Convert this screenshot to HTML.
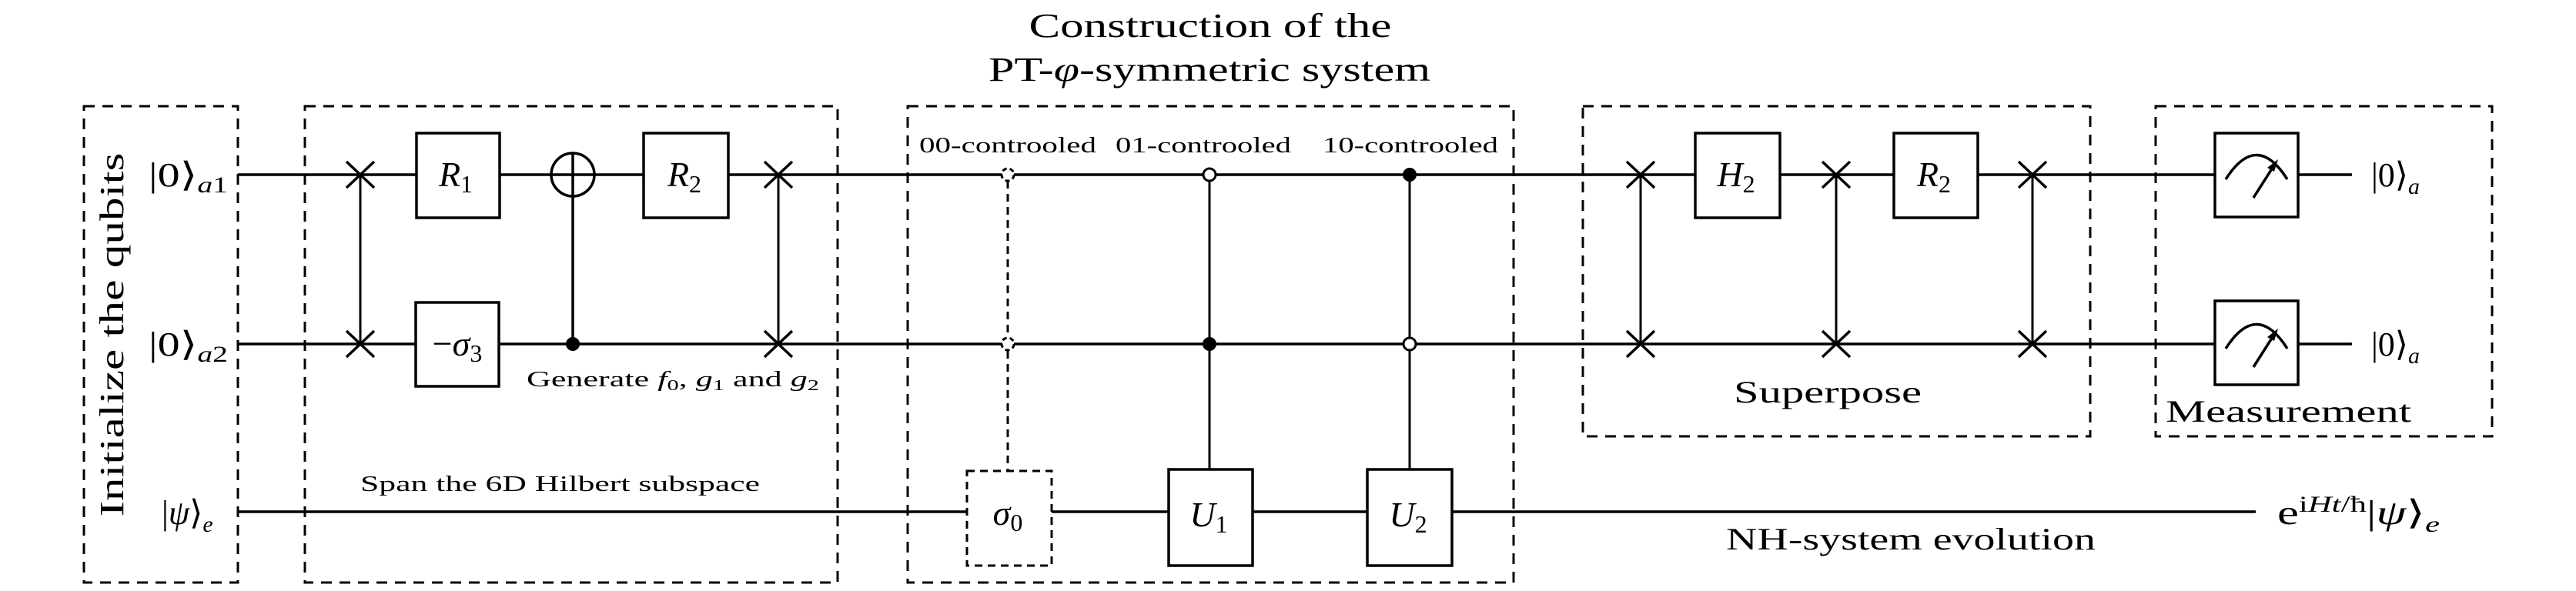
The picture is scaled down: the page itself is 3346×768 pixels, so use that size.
<!DOCTYPE html>
<html><head><meta charset="utf-8"><style>html,body{margin:0;padding:0;background:#fff}svg{display:block}text{font-family:"Liberation Serif",serif}</style></head>
<body>
<svg width="3346" height="768" viewBox="0 0 3346 768" xmlns="http://www.w3.org/2000/svg" fill="#000">
<g fill="none" stroke="#000" stroke-width="3" stroke-dasharray="14,10">
<rect x="109" y="138" width="200" height="619"/>
<rect x="396" y="138" width="692" height="619"/>
<rect x="1179" y="138" width="787" height="619"/>
<rect x="2056" y="138" width="659" height="429"/>
<rect x="2800" y="138" width="437" height="429"/>
</g>
<g stroke="#000" stroke-width="3.5" fill="none">
<line x1="309" y1="227" x2="3055" y2="227"/>
<line x1="309" y1="447" x2="3055" y2="447"/>
<line x1="309" y1="665" x2="2930" y2="665"/>
</g>
<g stroke="#000" stroke-width="3.5" fill="#fff">
<rect x="541" y="173" width="108" height="110"/>
<rect x="540" y="393" width="108" height="109"/>
<rect x="836" y="173" width="110" height="110"/>
<rect x="1518" y="610" width="109" height="125"/>
<rect x="1776" y="610" width="110" height="125"/>
<rect x="2202" y="173" width="110" height="110"/>
<rect x="2460" y="173" width="109" height="110"/>
<rect x="2877" y="173" width="108" height="109"/>
<rect x="2877" y="391" width="108" height="109"/>
</g>
<rect x="1256" y="612" width="110" height="123" fill="#fff" stroke="#000" stroke-width="3" stroke-dasharray="10,7"/>
<g stroke="#000" stroke-width="3">
<line x1="468" y1="227" x2="468" y2="447"/>
<line x1="1011" y1="227" x2="1011" y2="447"/>
<line x1="2131" y1="227" x2="2131" y2="447"/>
<line x1="2385" y1="227" x2="2385" y2="447"/>
<line x1="2640" y1="227" x2="2640" y2="447"/>
</g>
<g stroke="#000" stroke-width="3.5">
<path d="M450 210l36 34M486 210l-36 34M450 430l36 34M486 430l-36 34"/>
<path d="M993 210l36 34M1029 210l-36 34M993 430l36 34M1029 430l-36 34"/>
<path d="M2113 210l36 34M2149 210l-36 34M2113 430l36 34M2149 430l-36 34"/>
<path d="M2367 210l36 34M2403 210l-36 34M2367 430l36 34M2403 430l-36 34"/>
<path d="M2622 210l36 34M2658 210l-36 34M2622 430l36 34M2658 430l-36 34"/>
</g>
<line x1="744" y1="199" x2="744" y2="447" stroke="#000" stroke-width="3.5"/>
<circle cx="744" cy="227" r="28" fill="none" stroke="#000" stroke-width="3.5"/>
<circle cx="744" cy="447" r="9"/>
<line x1="1309" y1="235" x2="1309" y2="612" stroke="#000" stroke-width="3" stroke-dasharray="10,7"/>
<circle cx="1309" cy="227" r="8" fill="#fff" stroke="#000" stroke-width="3" stroke-dasharray="6,4"/>
<circle cx="1309" cy="447" r="8" fill="#fff" stroke="#000" stroke-width="3" stroke-dasharray="6,4"/>
<line x1="1571" y1="227" x2="1571" y2="610" stroke="#000" stroke-width="3"/>
<circle cx="1571" cy="227" r="8" fill="#fff" stroke="#000" stroke-width="3"/>
<circle cx="1571" cy="447" r="9"/>
<line x1="1831" y1="227" x2="1831" y2="610" stroke="#000" stroke-width="3"/>
<circle cx="1831" cy="227" r="9"/>
<circle cx="1831" cy="447" r="8" fill="#fff" stroke="#000" stroke-width="3"/>
<g stroke="#000" stroke-width="3.5" fill="none">
<path d="M2891 233 Q2931 170 2971 233"/>
<path d="M2927 257 L2955 213"/>
<path d="M2891 453 Q2931 390 2971 453"/>
<path d="M2927 477 L2955 433"/>
</g>
<path d="M2959 207 L2945 218 L2954 223 Z"/>
<path d="M2959 427 L2945 438 L2954 443 Z"/>
<g font-size="44">
<text x="193" y="242" textLength="103" lengthAdjust="spacingAndGlyphs">|0⟩<tspan font-style="italic" font-size="30" dy="8">a</tspan><tspan font-size="30">1</tspan></text>
<text x="193" y="462" textLength="103" lengthAdjust="spacingAndGlyphs">|0⟩<tspan font-style="italic" font-size="30" dy="8">a</tspan><tspan font-size="30">2</tspan></text>
<text x="210" y="681">|<tspan font-style="italic">ψ</tspan>⟩<tspan font-style="italic" font-size="30" dy="10">e</tspan></text>
<text x="3080" y="242">|0⟩<tspan font-style="italic" font-size="30" dy="10">a</tspan></text>
<text x="3080" y="462">|0⟩<tspan font-style="italic" font-size="30" dy="10">a</tspan></text>
<text x="2958" y="681" textLength="211" lengthAdjust="spacingAndGlyphs">e<tspan font-size="30" dy="-16">i<tspan font-style="italic">Ht</tspan>/ħ</tspan><tspan dy="16">|</tspan><tspan font-style="italic">ψ</tspan>⟩<tspan font-style="italic" font-size="30" dy="10">e</tspan></text>
<text x="1572" y="48" text-anchor="middle" textLength="471" lengthAdjust="spacingAndGlyphs">Construction of the</text>
<text x="1571" y="105" text-anchor="middle" textLength="574" lengthAdjust="spacingAndGlyphs">PT-<tspan font-style="italic">φ</tspan>-symmetric system</text>
<text x="146" y="435" text-anchor="middle" transform="rotate(-90 146 435)" dy="14" textLength="473" lengthAdjust="spacingAndGlyphs">Initialize the qubits</text>
</g>
<g font-size="46" font-style="italic" text-anchor="middle">
<text x="592" y="242">R<tspan font-style="normal" font-size="32" dy="8">1</tspan></text>
<text x="889" y="242">R<tspan font-style="normal" font-size="32" dy="8">2</tspan></text>
<text x="2255" y="242">H<tspan font-style="normal" font-size="32" dy="8">2</tspan></text>
<text x="2512" y="242">R<tspan font-style="normal" font-size="32" dy="8">2</tspan></text>
<text x="594" y="462"><tspan font-style="normal">−</tspan>σ<tspan font-style="normal" font-size="32" dy="8">3</tspan></text>
<text x="1309" y="682">σ<tspan font-style="normal" font-size="32" dy="8">0</tspan></text>
<text x="1570" y="684">U<tspan font-style="normal" font-size="32" dy="8">1</tspan></text>
<text x="1829" y="684">U<tspan font-style="normal" font-size="32" dy="8">2</tspan></text>
</g>
<g font-size="29">
<text x="684" y="502" textLength="380" lengthAdjust="spacingAndGlyphs">Generate <tspan font-style="italic">f</tspan><tspan font-size="20" dy="5">0</tspan><tspan dy="-5">, </tspan><tspan font-style="italic">g</tspan><tspan font-size="20" dy="5">1</tspan><tspan dy="-5"> and </tspan><tspan font-style="italic">g</tspan><tspan font-size="20" dy="5">2</tspan></text>
<text x="468" y="638" textLength="519" lengthAdjust="spacingAndGlyphs">Span the 6D Hilbert subspace</text>
<text x="1194" y="198" textLength="230" lengthAdjust="spacingAndGlyphs">00-controoled</text>
<text x="1449" y="198" textLength="228" lengthAdjust="spacingAndGlyphs">01-controoled</text>
<text x="1718" y="198" textLength="228" lengthAdjust="spacingAndGlyphs">10-controoled</text>
</g>
<g font-size="40">
<text x="2252" y="523" textLength="244" lengthAdjust="spacingAndGlyphs">Superpose</text>
<text x="2813" y="548" textLength="319" lengthAdjust="spacingAndGlyphs">Measurement</text>
<text x="2242" y="714" textLength="480" lengthAdjust="spacingAndGlyphs">NH-system evolution</text>
</g>
</svg>
</body></html>
